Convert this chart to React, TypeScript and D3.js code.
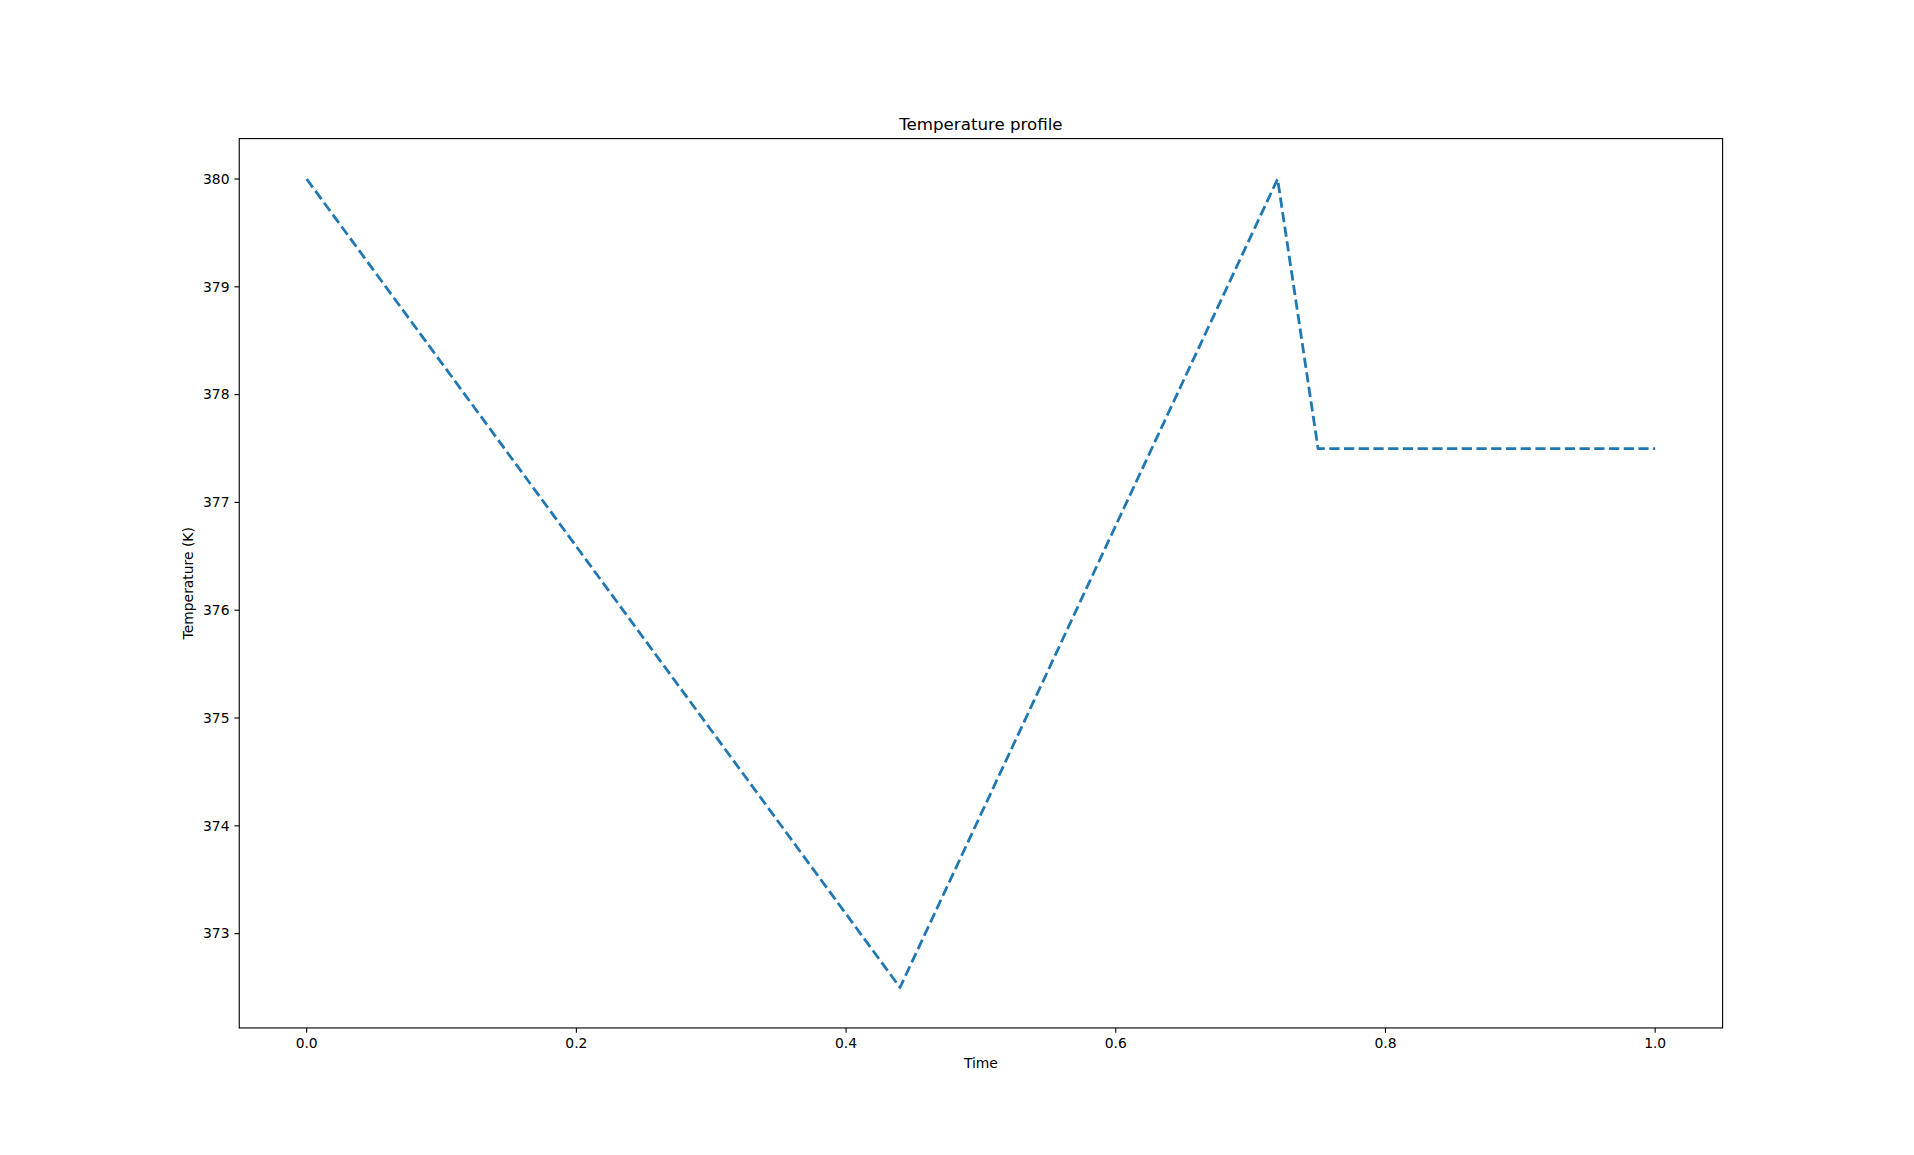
import React, { useEffect, useRef } from "react";
import * as d3 from "d3";

const timeValues = [0.0, 0.44, 0.72, 0.75, 1.0];
const temperatureValues = [380, 372.5, 380, 377.5, 377.5];
const xTicks = [0.0, 0.2, 0.4, 0.6, 0.8, 1.0];
const yTicks = [373, 374, 375, 376, 377, 378, 379, 380];

const W = 1914;
const H = 1155;
const pt = 100 / 72;

export default function App() {
  const ref = useRef<SVGSVGElement | null>(null);
  useEffect(() => {
    const svg = d3.select(ref.current);
    svg.selectAll("*").remove();
    const left = 0.125 * W, right = 0.9 * W, top = (1 - 0.88) * H, bottom = (1 - 0.11) * H;
    const xMin = d3.min(timeValues)!, xMax = d3.max(timeValues)!;
    const yMin = d3.min(temperatureValues)!, yMax = d3.max(temperatureValues)!;
    const xm = (xMax - xMin) * 0.05, ym = (yMax - yMin) * 0.05;
    const x = d3.scaleLinear().domain([xMin - xm, xMax + xm]).range([left, right]);
    const y = d3.scaleLinear().domain([yMin - ym, yMax + ym]).range([bottom, top]);
    const font = "DejaVu Sans";
    const fs = 10 * pt;

    const line = d3.line<number>().x((d, i) => x(timeValues[i])).y((d) => y(d));
    svg.append("path")
      .datum(temperatureValues)
      .attr("d", line)
      .attr("fill", "none")
      .attr("stroke", "#1f77b4")
      .attr("stroke-width", 2 * pt)
      .attr("stroke-dasharray", `${7.4 * pt},${3.2 * pt}`)
      .attr("stroke-linecap", "butt")
      .attr("stroke-linejoin", "round");

    // frame
    svg.append("rect")
      .attr("x", left).attr("y", top)
      .attr("width", right - left).attr("height", bottom - top)
      .attr("fill", "none").attr("stroke", "#000").attr("stroke-width", 0.8 * pt);

    const tl = 3.5 * pt;
    const xg = svg.append("g");
    xTicks.forEach((t) => {
      xg.append("line").attr("x1", x(t)).attr("x2", x(t)).attr("y1", bottom).attr("y2", bottom + tl)
        .attr("stroke", "#000").attr("stroke-width", 0.8 * pt);
      xg.append("text").attr("x", x(t)).attr("y", bottom + tl + 3.5 * pt)
        .attr("dy", "0.76em").attr("text-anchor", "middle")
        .attr("font-family", font).attr("font-size", fs).text(t.toFixed(1));
    });
    const yg = svg.append("g");
    yTicks.forEach((t) => {
      yg.append("line").attr("x1", left - tl).attr("x2", left).attr("y1", y(t)).attr("y2", y(t))
        .attr("stroke", "#000").attr("stroke-width", 0.8 * pt);
      yg.append("text").attr("x", left - tl - 3.5 * pt).attr("y", y(t))
        .attr("dy", "0.35em").attr("text-anchor", "end")
        .attr("font-family", font).attr("font-size", fs).text(String(t));
    });

    svg.append("text").attr("x", (left + right) / 2).attr("y", top - 6 * pt)
      .attr("text-anchor", "middle").attr("font-family", font).attr("font-size", 12 * pt)
      .text("Temperature profile");
    svg.append("text").attr("x", (left + right) / 2).attr("y", 1063)
      .attr("dy", "0.35em").attr("text-anchor", "middle").attr("font-family", font).attr("font-size", fs)
      .text("Time");
    svg.append("text")
      .attr("transform", `translate(188,${(top + bottom) / 2}) rotate(-90)`)
      .attr("dy", "0.35em").attr("text-anchor", "middle").attr("font-family", font).attr("font-size", fs)
      .text("Temperature (K)");
  }, []);
  return (
    <svg ref={ref} width={W} height={H}
      style={{ position: "absolute", left: 0, top: 0, background: "#fff" }} />
  );
}
